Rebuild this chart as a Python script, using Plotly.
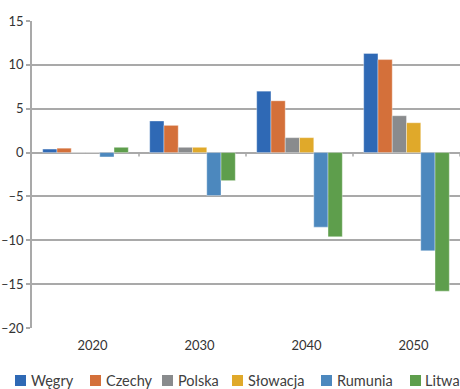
import plotly.graph_objects as go

# Category labels and series values
years = ["2020", "2030", "2040", "2050"]
series_names = ["Węgry", "Czechy", "Polska", "Słowacja", "Rumunia", "Litwa"]
wegry = [0.4, 3.6, 7.0, 11.3]
czechy = [0.5, 3.1, 5.9, 10.6]
polska = [0.0, 0.6, 1.7, 4.2]
slowacja = [0.0, 0.6, 1.7, 3.4]
rumunia = [-0.5, -4.9, -8.5, -11.2]
litwa = [0.6, -3.2, -9.6, -15.8]
y_ticks = [15, 10, 5, 0, -5, -10, -15, -20]

series_values = [wegry, czechy, polska, slowacja, rumunia, litwa]
colors = ["#2F69B5", "#D4703A", "#898B8D", "#E0A92A", "#4C88BE", "#5E9E4C"]

W, H = 460, 389
M_L, M_R, M_T, M_B = 32, 0, 21, 61
PW, PH = W - M_L - M_R, H - M_T - M_B
GRID = "#A9A9A9"
FONT = "Lato"


def px_x(px):
    return (px - M_L) / PW


def px_y(py):
    return (H - M_B - py) / PH


def tick_text(v):
    return ("\u2013" + str(-v)) if v < 0 else str(v)


fig = go.Figure()
for name, vals, col in zip(series_names, series_values, colors):
    fig.add_trace(go.Bar(
        x=years, y=vals, name=name,
        marker=dict(color=col, line=dict(color="rgba(255,255,255,0.45)", width=0.8)),
        showlegend=False,
    ))

# Category boundary ticks hanging below the zero line
shapes = []
for b in [0.5, 1.5, 2.5, 3.5]:
    shapes.append(dict(type="line", xref="x", yref="y", x0=b, x1=b,
                       ysizemode="pixel", yanchor=0, y0=0, y1=-4,
                       line=dict(color=GRID, width=1.5)))

# Legend row along the bottom
legend_sq_x = [15, 90, 162, 232, 321, 410]
legend_txt_x = [29, 104, 176, 246, 335, 423]
annotations = []
for name, col, sx, tx in zip(series_names, colors, legend_sq_x, legend_txt_x):
    shapes.append(dict(type="rect", xref="paper", yref="paper",
                       x0=px_x(sx), x1=px_x(sx + 11), y0=px_y(386), y1=px_y(375),
                       fillcolor=col, line=dict(width=0)))
    annotations.append(dict(text=name, xref="paper", yref="paper",
                            x=px_x(tx), y=px_y(380), xanchor="left", yanchor="middle",
                            showarrow=False, font=dict(family=FONT, size=14.5, color="#404040")))

fig.update_layout(
    width=W, height=H,
    margin=dict(l=M_L, r=M_R, t=M_T, b=M_B),
    paper_bgcolor="white", plot_bgcolor="white",
    barmode="group", bargap=0.2, bargroupgap=0,
    font=dict(family=FONT, size=13, color="#333333"),
    shapes=shapes, annotations=annotations,
)
fig.update_xaxes(
    type="category", range=[-0.5, 3.5],
    showgrid=False, showline=False, zeroline=False, ticks="",
    ticklabelshift=7, ticklabelstandoff=8,
    tickfont=dict(family=FONT, size=13, color="#333333"),
)
fig.update_yaxes(
    range=[-20, 15], tickvals=y_ticks, ticktext=[tick_text(v) for v in y_ticks],
    showgrid=True, gridcolor=GRID, gridwidth=1.5,
    zeroline=True, zerolinecolor=GRID, zerolinewidth=1.5,
    showline=True, linecolor=GRID, linewidth=1.5,
    ticks="outside", ticklen=4, tickcolor=GRID, tickwidth=1.5,
    tickfont=dict(family=FONT, size=13, color="#333333"),
)

fig.write_html("out.html")
